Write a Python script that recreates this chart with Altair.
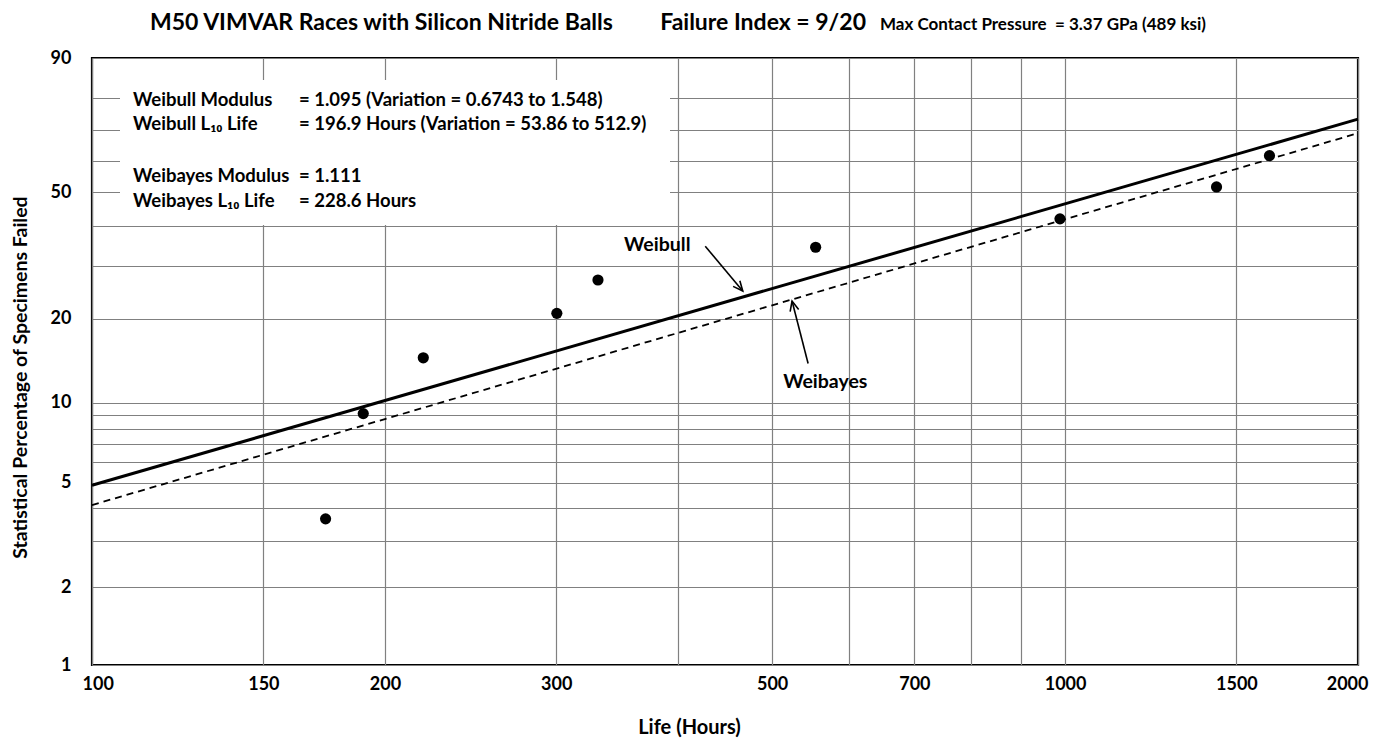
import math
import altair as alt
import pandas as pd

# ---------------- data ----------------
life_hours = [173.8, 190.0, 219.0, 300.4, 331.1, 554.2, 988.0, 1431.0, 1622.0]
pct_failed = [3.65, 9.10, 14.55, 20.87, 27.06, 34.49, 42.04, 51.61, 61.73]

line_life = [100, 2000]
weibull_pct = [4.9, 73.6]
weibayes_pct = [4.12, 69.1]

x_grid = [100, 150, 200, 300, 400, 500, 600, 700, 800, 900, 1000, 1500, 2000]
x_labels = [100, 150, 200, 300, 500, 700, 1000, 1500, 2000]
y_grid = [1, 2, 3, 4, 5, 6, 7, 8, 9, 10, 20, 30, 40, 50, 60, 70, 80, 90]
y_labels = [1, 2, 5, 10, 20, 50, 90]

title_a = "M50 VIMVAR Races with Silicon Nitride Balls"
title_b = "Failure Index = 9/20"
title_c = "Max Contact Pressure \u00a0= 3.37 GPa (489 ksi)"
box_labels = ["Weibull Modulus", "Weibull L\u2081\u2080 Life", "Weibayes Modulus", "Weibayes L\u2081\u2080 Life"]
box_values = ["= 1.095 (Variation = 0.6743 to 1.548)", "= 196.9 Hours (Variation = 53.86 to 512.9)",
              "= 1.111", "= 228.6 Hours"]

# annotation anchors (life, percent)
ann_names = ["Weibull", "Weibayes"]
ann_text_life = [381, 567]
ann_text_pct = [35.0, 11.9]
arrow_from_life = [426.8, 544.4]
arrow_from_pct = [34.75, 13.88]
arrow_to_life = [466.4, 524.1]
arrow_to_pct = [24.87, 23.0]
arrow_angle = [140, 346]

FONT = "Lato"
W, H = 1266, 607


def weib(p):
    return math.log(-math.log(1 - p / 100.0))


y_grid_t = [weib(p) for p in y_grid]
y_domain = [weib(y_grid[0]), weib(y_grid[-1])]
WEXPR = "log(-log(1 - datum.{f}/100))"

xscale = alt.Scale(type="log", domain=[100, 2000], nice=False)
yscale = alt.Scale(domain=y_domain, nice=False, zero=False)

lab_list = "[" + ",".join(str(v) for v in x_labels) + "]"
ylab_list = "[" + ",".join(str(v) for v in y_labels) + "]"
pct_of = "round(100*(1-exp(-exp(datum.value))))"

x_axis = alt.Axis(
    values=x_grid, tickCount=100, title="Life (Hours)", grid=True, ticks=False, tickSize=0, domain=False,
    labelExpr=f"indexof({lab_list}, datum.value) >= 0 ? '' + datum.value : ''",
    labelOverlap=False, labelFlush=True, labelFlushOffset=10, labelPadding=10,
    labelFontSize=18, labelFont=FONT, labelFontWeight="bold",
    labelColor="black", titleFont=FONT, titleFontSize=20, titleFontWeight="bold", titleColor="black",
    titleX=597, titleY=62, titleBaseline="middle", titleAnchor="start", titleAlign="center",
)
y_axis = alt.Axis(
    values=y_grid_t, tickCount=100, title="Statistical Percentage of Specimens Failed", grid=True,
    ticks=False, tickSize=0, domain=False, labelOverlap=False,
    labelExpr=f"indexof({ylab_list}, {pct_of}) >= 0 ? '' + {pct_of} : ''",
    labelPadding=21, labelFontSize=18, labelFont=FONT, labelFontWeight="bold", labelColor="black",
    titleFont=FONT, titleFontSize=19.5, titleFontWeight="bold", titleColor="black",
    titleX=-72, titleY=319, titleBaseline="middle", titleAlign="center",
)

pts = pd.DataFrame({"life": life_hours, "pct": pct_failed})
lines = pd.DataFrame({
    "life": line_life + line_life,
    "pct": weibull_pct + weibayes_pct,
    "fit": ["Weibull"] * 2 + ["Weibayes"] * 2,
})
ann = pd.DataFrame({
    "name": ann_names, "tl": ann_text_life, "tp": ann_text_pct,
    "fl": arrow_from_life, "fp": arrow_from_pct, "el": arrow_to_life, "ep": arrow_to_pct,
    "ang": arrow_angle,
})
one = pd.DataFrame({"a": [0]})

# white box behind the statistics text (covers the grid)
box = alt.Chart(one).mark_rect(fill="white").encode(
    x=alt.value(28), x2=alt.value(578), y=alt.value(22), y2=alt.value(167)
)

base_pts = alt.Chart(pts).transform_calculate(w=WEXPR.format(f="pct"))
points = base_pts.mark_circle(size=125, color="black", opacity=1).encode(
    x=alt.X("life:Q", scale=xscale, axis=x_axis),
    y=alt.Y("w:Q", scale=yscale, axis=y_axis),
)

weibull_line = alt.Chart(lines).transform_filter("datum.fit == 'Weibull'").transform_calculate(
    w=WEXPR.format(f="pct")).mark_line(color="black", strokeWidth=3).encode(
    x=alt.X("life:Q", scale=xscale), y=alt.Y("w:Q", scale=yscale))
weibayes_line = alt.Chart(lines).transform_filter("datum.fit == 'Weibayes'").transform_calculate(
    w=WEXPR.format(f="pct")).mark_line(color="black", strokeWidth=1.8, strokeDash=[7, 5]).encode(
    x=alt.X("life:Q", scale=xscale), y=alt.Y("w:Q", scale=yscale))

ann_base = alt.Chart(ann).transform_calculate(
    tw=WEXPR.format(f="tp"), fw=WEXPR.format(f="fp"), ew=WEXPR.format(f="ep"))
ann_text = ann_base.mark_text(font=FONT, fontSize=19.5, fontWeight="bold", color="black",
                              align="center", baseline="middle").encode(
    x=alt.X("tl:Q", scale=xscale), y=alt.Y("tw:Q", scale=yscale), text="name:N")
arrow_shaft = ann_base.mark_rule(color="black", strokeWidth=1.6).encode(
    x=alt.X("fl:Q", scale=xscale), x2="el:Q", y=alt.Y("fw:Q", scale=yscale), y2="ew:Q")
arrow_head = ann_base.mark_point(shape="M-0.45,1L0,0L0.45,1", size=380, filled=False,
                                 color="black", strokeWidth=1.6, opacity=1).encode(
    x=alt.X("el:Q", scale=xscale), y=alt.Y("ew:Q", scale=yscale), angle=alt.Angle("ang:Q", scale=None))

# text inside the box
txt_layers = []
rows_y = [42, 66, 118, 143]
for lbl, val, yy in zip(box_labels, box_values, rows_y):
    txt_layers.append(alt.Chart(one).mark_text(font=FONT, fontSize=18.5, fontWeight="bold", color="black",
                                               align="left", baseline="middle").encode(
        x=alt.value(41), y=alt.value(yy), text=alt.value(lbl)))
    txt_layers.append(alt.Chart(one).mark_text(font=FONT, fontSize=18.5, fontWeight="bold", color="black",
                                               align="left", baseline="middle").encode(
        x=alt.value(207), y=alt.value(yy), text=alt.value(val)))

t_a = alt.Chart(one).mark_text(font=FONT, fontSize=23, fontWeight="bold", color="black",
                               align="left", baseline="alphabetic").encode(
    x=alt.value(58), y=alt.value(-28), text=alt.value(title_a))
t_b = alt.Chart(one).mark_text(font=FONT, fontSize=23, fontWeight="bold", color="black",
                               align="right", baseline="alphabetic").encode(
    x=alt.value(774), y=alt.value(-28), text=alt.value(title_b))
t_c = alt.Chart(one).mark_text(font=FONT, fontSize=17, fontWeight="bold", color="black",
                               align="left", baseline="alphabetic").encode(
    x=alt.value(788), y=alt.value(-28), text=alt.value(title_c))

chart = alt.layer(
    points, box, weibull_line, weibayes_line, arrow_shaft, arrow_head, ann_text,
    *txt_layers, t_a, t_b, t_c
).properties(
    width=W, height=H,
    autosize=alt.AutoSizeParams(type="none"),
    padding={"left": 92, "top": 58, "right": 15, "bottom": 73},
    background="white",
).configure_view(stroke="black", strokeWidth=2.2).configure_axis(
    gridColor="#808080", gridWidth=1.2, gridOpacity=1
)

chart.save("out.html", embed_options={"renderer": "svg", "actions": False})
